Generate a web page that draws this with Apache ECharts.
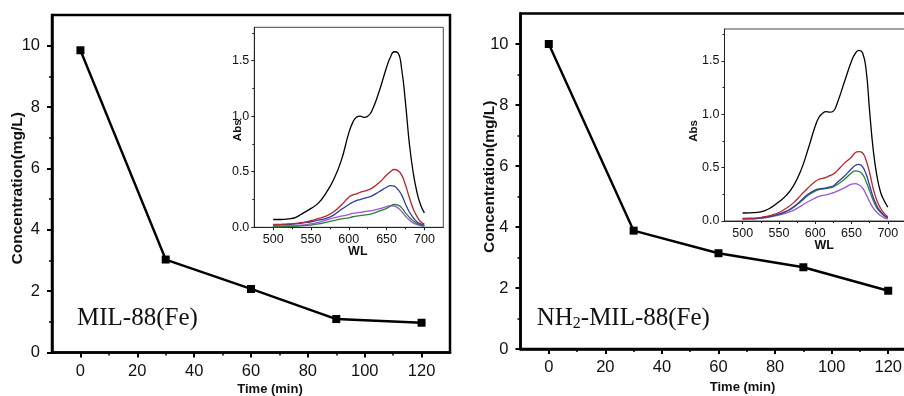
<!DOCTYPE html>
<html>
<head>
<meta charset="utf-8">
<script src="https://cdn.jsdelivr.net/npm/echarts@6/dist/echarts.min.js"></script>
<style>html,body{margin:0;padding:0;background:#fff;}#c{width:904px;height:396px;}</style>
</head>
<body>
<div id="c"></div>
<script>
// ---- main plots: concentration vs time ----
const timeMin = [0, 30, 60, 90, 120];
const concMIL88 = [9.85, 3.03, 2.07, 1.09, 0.97];
const concNH2MIL88 = [10.0, 3.88, 3.14, 2.68, 1.91];
const timeTicks = [0, 20, 40, 60, 80, 100, 120];
const timeMinorTicks = [10, 30, 50, 70, 90, 110];
const concTicks = [0, 2, 4, 6, 8, 10];
const concMinorTicks = [1, 3, 5, 7, 9];

// ---- insets: absorbance spectra ----
const wl = [500, 510, 520, 530, 540, 550, 560, 570, 580, 590, 600, 605, 610, 615, 620, 625, 630, 640, 650, 655, 660, 665, 670, 675, 680, 685, 690, 695, 700];
const wlTicks = [500, 550, 600, 650, 700];
const wlMinorTicks = [525, 575, 625, 675];
const absTicks = [0, 0.5, 1.0, 1.5];
const absMinorTicks = [0.25, 0.75, 1.25, 1.75];

const milBlack  = [0.07, 0.07, 0.075, 0.09, 0.13, 0.17, 0.22, 0.31, 0.43, 0.60, 0.85, 0.94, 0.99, 1.00, 0.99, 1.00, 1.04, 1.22, 1.44, 1.53, 1.58, 1.57, 1.42, 1.12, 0.76, 0.50, 0.32, 0.20, 0.13];
const milRed    = [0.025, 0.027, 0.03, 0.035, 0.045, 0.06, 0.08, 0.10, 0.14, 0.20, 0.27, 0.29, 0.30, 0.315, 0.325, 0.335, 0.35, 0.40, 0.47, 0.50, 0.52, 0.51, 0.47, 0.38, 0.27, 0.17, 0.10, 0.05, 0.03];
const milBlue   = [0.02, 0.022, 0.025, 0.03, 0.04, 0.05, 0.065, 0.08, 0.11, 0.16, 0.205, 0.225, 0.24, 0.25, 0.26, 0.27, 0.28, 0.32, 0.36, 0.375, 0.37, 0.34, 0.29, 0.21, 0.14, 0.09, 0.05, 0.03, 0.02];
const milGreen  = [0.005, 0.005, 0.007, 0.01, 0.015, 0.02, 0.03, 0.045, 0.06, 0.075, 0.085, 0.095, 0.10, 0.105, 0.11, 0.115, 0.12, 0.145, 0.17, 0.19, 0.205, 0.20, 0.175, 0.13, 0.09, 0.06, 0.035, 0.02, 0.012];
const milPurple = [0.01, 0.01, 0.012, 0.015, 0.022, 0.03, 0.045, 0.065, 0.085, 0.10, 0.115, 0.125, 0.13, 0.135, 0.14, 0.145, 0.15, 0.165, 0.185, 0.195, 0.19, 0.175, 0.14, 0.10, 0.065, 0.04, 0.025, 0.015, 0.01];

const nh2Black  = [0.075, 0.077, 0.08, 0.095, 0.13, 0.18, 0.24, 0.33, 0.47, 0.67, 0.89, 0.97, 1.01, 1.025, 1.02, 1.03, 1.10, 1.30, 1.50, 1.57, 1.60, 1.58, 1.42, 1.02, 0.66, 0.42, 0.27, 0.19, 0.13];
const nh2Red    = [0.025, 0.027, 0.03, 0.04, 0.055, 0.08, 0.12, 0.17, 0.24, 0.31, 0.37, 0.39, 0.40, 0.41, 0.425, 0.44, 0.47, 0.54, 0.60, 0.64, 0.65, 0.64, 0.57, 0.45, 0.30, 0.19, 0.12, 0.07, 0.04];
const nh2Blue   = [0.02, 0.022, 0.025, 0.035, 0.045, 0.065, 0.09, 0.13, 0.19, 0.25, 0.29, 0.30, 0.305, 0.31, 0.32, 0.33, 0.36, 0.42, 0.49, 0.52, 0.53, 0.51, 0.44, 0.33, 0.22, 0.14, 0.09, 0.05, 0.035];
const nh2Green  = [0.02, 0.022, 0.025, 0.035, 0.045, 0.065, 0.09, 0.13, 0.18, 0.24, 0.28, 0.295, 0.30, 0.305, 0.31, 0.32, 0.34, 0.39, 0.45, 0.47, 0.465, 0.44, 0.37, 0.28, 0.19, 0.12, 0.08, 0.05, 0.03];
const nh2Purple = [0.02, 0.02, 0.022, 0.03, 0.04, 0.055, 0.075, 0.10, 0.14, 0.18, 0.215, 0.23, 0.24, 0.245, 0.255, 0.265, 0.28, 0.31, 0.345, 0.35, 0.34, 0.31, 0.25, 0.18, 0.12, 0.08, 0.05, 0.03, 0.02];

const spectraColors = ['#000000', '#b8262b', '#2d3d9c', '#2f7d3c', '#9a55d6'];

const SANS = '"Liberation Sans", Arial, sans-serif';
const SERIF = '"Liberation Serif", "Times New Roman", serif';

const chart = echarts.init(document.getElementById('c'), null, {renderer: 'canvas'});

const grids = [
  {left: 52, top: 15, width: 398, height: 337.5, show: true, borderColor: '#000', borderWidth: 2.5, backgroundColor: 'transparent', outerBoundsMode: 'none', containLabel: false},
  {left: 254.3, top: 27.3, width: 189, height: 200, show: true, borderColor: '#444', borderWidth: 1, backgroundColor: '#fff', outerBoundsMode: 'none', containLabel: false},
  {left: 520.5, top: 13.5, width: 396, height: 335.5, show: true, borderColor: '#000', borderWidth: 2.5, backgroundColor: 'transparent', outerBoundsMode: 'none', containLabel: false},
  {left: 724.5, top: 29, width: 181.5, height: 192, show: true, borderColor: '#444', borderWidth: 1, backgroundColor: '#fff', outerBoundsMode: 'none', containLabel: false}
];

function mainX(grid, gap, pad, margin) {
  return [
    {type: 'value', gridIndex: grid, min: -10, max: 130, position: 'bottom',
     axisLine: {show: true, onZero: false, lineStyle: {color: '#000', width: 2.5}},
     axisTick: {show: true, customValues: timeTicks, length: 5, lineStyle: {color: '#000', width: 2}},
     axisLabel: {show: true, customValues: timeTicks, margin: margin, fontSize: 16.5, fontFamily: SANS, color: '#111'},
     splitLine: {show: false},
     name: 'Time (min)', nameLocation: 'middle', nameGap: gap, nameMoveOverlap: false,
     nameTextStyle: {fontSize: 13, fontWeight: 'bold', fontFamily: SANS, color: '#111', padding: [0, 0, 0, pad]}},
    {type: 'value', gridIndex: grid, min: -10, max: 130, position: 'bottom',
     axisLine: {show: false, onZero: false}, axisLabel: {show: false}, splitLine: {show: false},
     axisTick: {show: true, customValues: timeMinorTicks, length: 3, lineStyle: {color: '#000', width: 1.5}}}
  ];
}
function mainY(grid, gap, pad) {
  return [
    {type: 'value', gridIndex: grid, min: 0, max: 11, position: 'left',
     axisLine: {show: true, onZero: false, lineStyle: {color: '#000', width: 2.5}},
     axisTick: {show: true, customValues: concTicks, length: 5, lineStyle: {color: '#000', width: 2}},
     axisLabel: {show: true, customValues: concTicks, margin: 12, fontSize: 16.5, fontFamily: SANS, color: '#111'},
     splitLine: {show: false},
     name: 'Concentration(mg/L)', nameLocation: 'middle', nameGap: gap, nameMoveOverlap: false,
     nameTextStyle: {fontSize: 15.5, fontWeight: 'bold', fontFamily: SANS, color: '#111', padding: pad}},
    {type: 'value', gridIndex: grid, min: 0, max: 11, position: 'left',
     axisLine: {show: false, onZero: false}, axisLabel: {show: false}, splitLine: {show: false},
     axisTick: {show: true, customValues: concMinorTicks, length: 3, lineStyle: {color: '#000', width: 1.5}}}
  ];
}
function insetX(grid, gap) {
  return [
    {type: 'value', gridIndex: grid, min: 475, max: 725, position: 'bottom',
     axisLine: {show: true, onZero: false, lineStyle: {color: '#222', width: 1}},
     axisTick: {show: true, customValues: wlTicks, length: 3, lineStyle: {color: '#222', width: 1}},
     axisLabel: {show: true, customValues: wlTicks, margin: 6, fontSize: 12.5, fontFamily: SANS, color: '#111'},
     splitLine: {show: false},
     name: 'WL', nameLocation: 'middle', nameGap: gap, nameMoveOverlap: false,
     nameTextStyle: {fontSize: 12.5, fontWeight: 'bold', fontFamily: SANS, color: '#111', padding: [0, 0, 0, 18]}},
    {type: 'value', gridIndex: grid, min: 475, max: 725, position: 'bottom',
     axisLine: {show: false, onZero: false}, axisLabel: {show: false}, splitLine: {show: false},
     axisTick: {show: true, customValues: wlMinorTicks, length: 2, lineStyle: {color: '#222', width: 1}}}
  ];
}
function insetY(grid, gap, pad) {
  return [
    {type: 'value', gridIndex: grid, min: 0, max: 1.8, position: 'left',
     axisLine: {show: true, onZero: false, lineStyle: {color: '#222', width: 1}},
     axisTick: {show: true, customValues: absTicks, length: 3, lineStyle: {color: '#222', width: 1}},
     axisLabel: {show: true, customValues: absTicks, margin: 5, fontSize: 12.5, fontFamily: SANS, color: '#111',
                 formatter: v => Number(v).toFixed(1)},
     splitLine: {show: false},
     name: 'Abs', nameLocation: 'middle', nameGap: gap, nameMoveOverlap: false,
     nameTextStyle: {fontSize: 11.5, fontWeight: 'bold', fontFamily: SANS, color: '#111', padding: pad}},
    {type: 'value', gridIndex: grid, min: 0, max: 1.8, position: 'left',
     axisLine: {show: false, onZero: false}, axisLabel: {show: false}, splitLine: {show: false},
     axisTick: {show: true, customValues: absMinorTicks, length: 2, lineStyle: {color: '#222', width: 1}}}
  ];
}

const xAxes = [].concat(mainX(0, 30, 38, 10), insetX(1, 18), mainX(2, 32, 48, 10), insetX(3, 18));
const yAxes = [].concat(mainY(0, 26, [0, 9, 0, 0]), insetY(1, 10, [0, 6, 0, 0]),
                        mainY(2, 23, [0, 0, 0, 9]), insetY(3, 25, [0, 12, 0, 0]));

function mainSeries(axis, values) {
  return {type: 'line', xAxisIndex: axis, yAxisIndex: axis,
    data: timeMin.map((t, i) => [t, values[i]]),
    symbol: 'rect', symbolSize: 8, showSymbol: true,
    lineStyle: {color: '#000', width: 2.4}, itemStyle: {color: '#000'},
    animation: false, z: 5};
}
function spectra(axis, list) {
  return list.map((arr, k) => ({type: 'line', xAxisIndex: axis, yAxisIndex: axis,
    data: wl.map((w, i) => [w, arr[i]]), showSymbol: false, symbol: 'none',
    smooth: 0.5,
    lineStyle: {color: spectraColors[k], width: 1.3}, animation: false, z: 6 - k}));
}

const series = [].concat(
  [mainSeries(0, concMIL88)],
  spectra(2, [milBlack, milRed, milBlue, milGreen, milPurple]),
  [mainSeries(4, concNH2MIL88)],
  spectra(6, [nh2Black, nh2Red, nh2Blue, nh2Green, nh2Purple])
);

chart.setOption({
  animation: false,
  backgroundColor: '#fff',
  grid: grids,
  xAxis: xAxes,
  yAxis: yAxes,
  series: series,
  graphic: [
    {type: 'text', x: 77, y: 306, z: 100,
     style: {text: '{a|MIL-88(Fe)}', verticalAlign: 'top', fill: '#111',
             rich: {a: {fontSize: 25, fontFamily: SERIF, lineHeight: 26, verticalAlign: 'top', fill: '#111'}}}},
    {type: 'text', x: 536.7, y: 306, z: 100,
     style: {text: '{a|NH}{s|2}{a|-MIL-88(Fe)}', verticalAlign: 'top', fill: '#111',
             rich: {a: {fontSize: 25, fontFamily: SERIF, lineHeight: 26, verticalAlign: 'top', fill: '#111'},
                    s: {fontSize: 16, fontFamily: SERIF, lineHeight: 16, padding: [14, 0, 0, 0], verticalAlign: 'bottom', fill: '#111'}}}}
  ]
});
</script>
</body>
</html>
